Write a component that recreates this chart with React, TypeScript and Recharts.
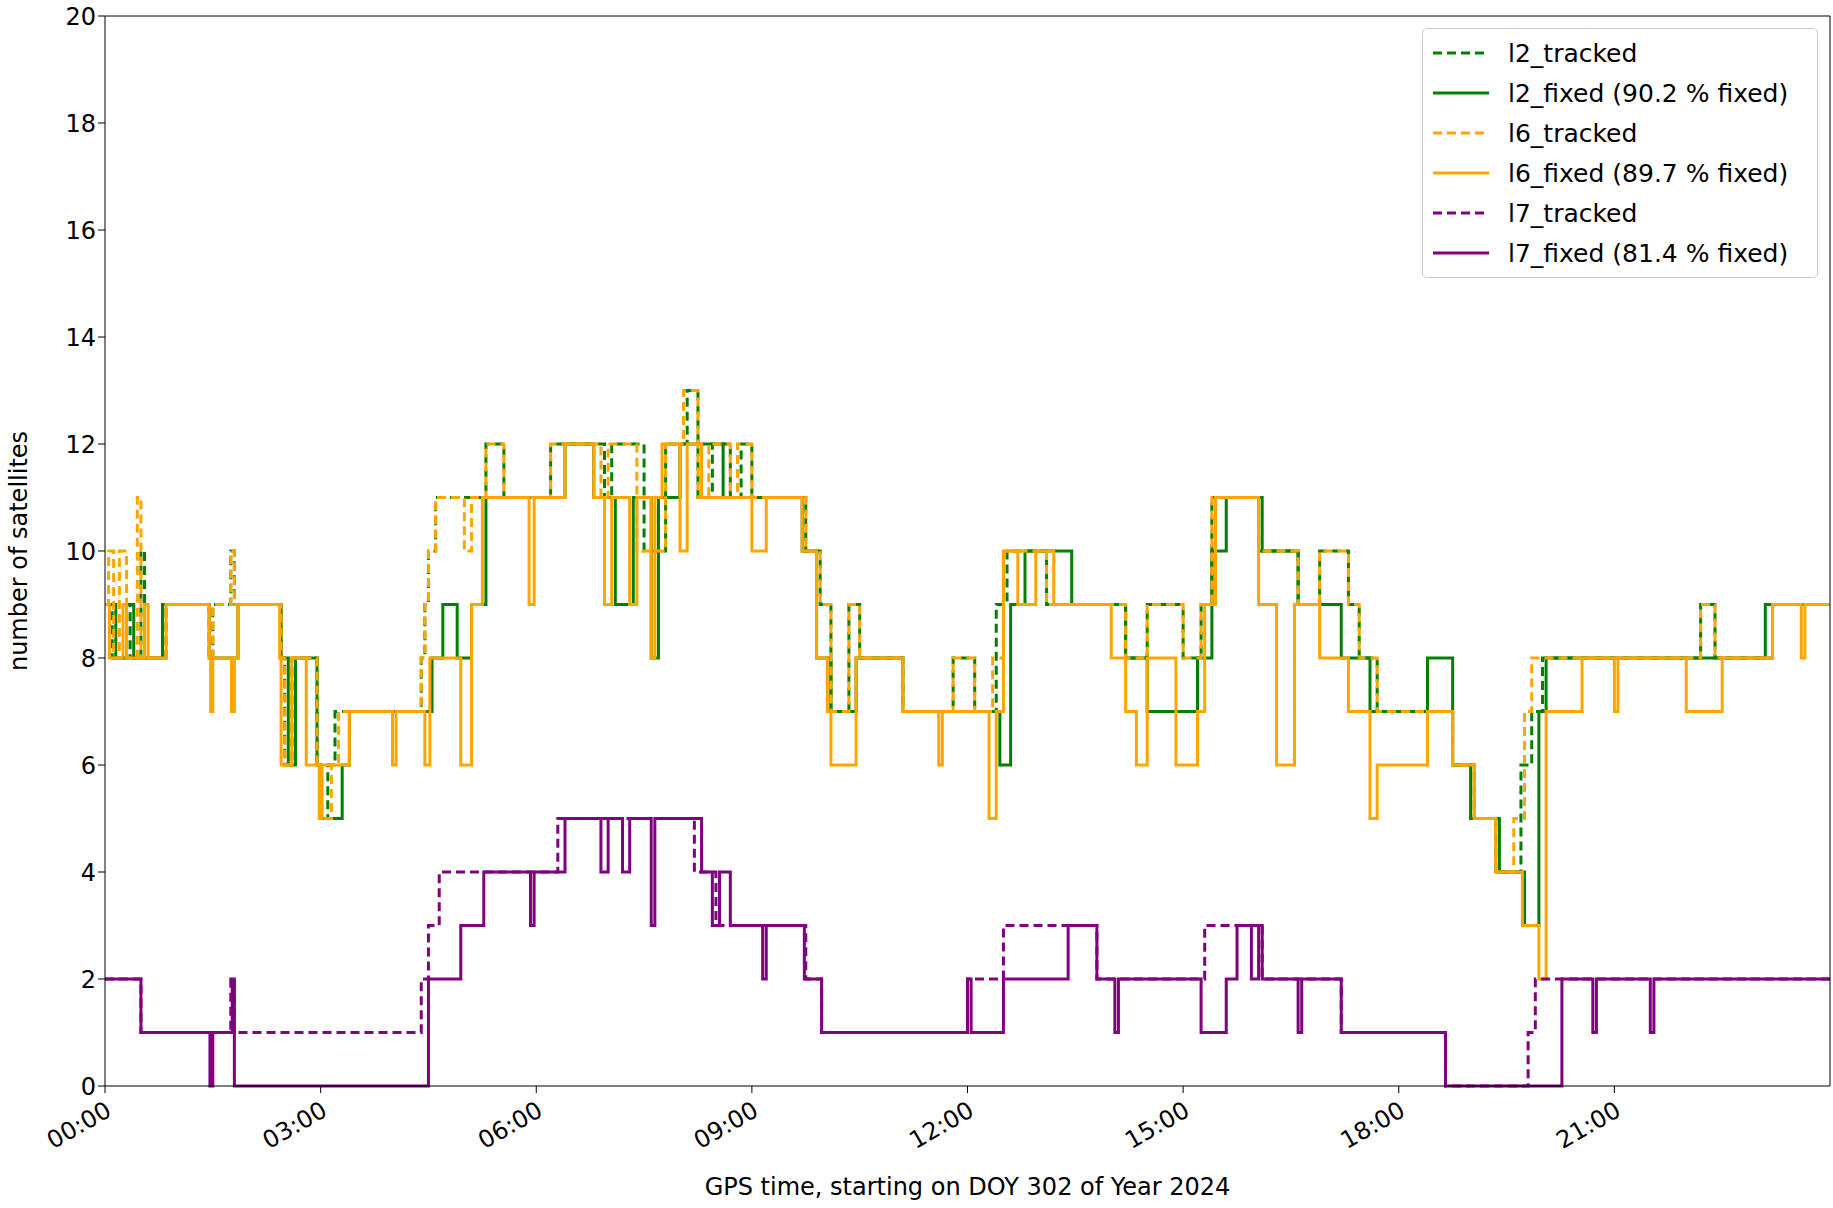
import React from "react";
import { LineChart, Line, XAxis, YAxis } from "recharts";

// change points [hour, satellites]
const l2Tracked: number[][] = [
  [0, 9], [0.1, 8], [0.3, 9], [0.35, 8], [0.5, 10], [0.55, 8], [0.85, 9], [1.45, 8], [1.5, 9], [1.75, 10], [1.8, 9], [2.45, 8], [2.5, 6], [2.6, 8], [2.95, 6], [3.0, 5], [3.1, 6], [3.2, 7],
  [4.4, 8], [4.45, 9], [4.5, 10], [4.6, 11], [5.3, 12], [5.55, 11], [6.2, 12], [6.95, 11], [7.05, 12], [7.5, 10], [7.8, 12], [8.1, 13], [8.25, 11], [8.45, 12], [8.7, 11], [8.85, 12], [9.0, 11],
  [9.75, 10], [9.95, 9], [10.1, 7], [10.35, 9], [10.5, 8], [11.1, 7], [11.8, 8], [12.1, 7], [12.4, 9], [12.55, 10], [12.9, 10], [13.1, 9], [13.7, 9], [14.2, 8], [14.5, 9], [15.0, 8], [15.25, 9],
  [15.4, 11], [16.05, 10], [16.6, 9], [16.9, 10], [17.3, 9], [17.45, 8], [17.7, 7], [18.4, 7], [18.75, 6], [19.05, 5], [19.35, 4], [19.7, 6], [19.85, 7], [20.0, 8], [21.7, 8], [22.2, 9],
  [22.4, 8], [23.0, 8], [23.2, 9], [24, 9],
];
const l2Fixed: number[][] = [
  [0, 9], [0.15, 8], [0.3, 9], [0.4, 8], [0.8, 9], [1.45, 8], [1.85, 9], [2.45, 8], [2.55, 6], [2.65, 8], [2.95, 6], [3.0, 5], [3.3, 6], [3.4, 7], [4.55, 8], [4.7, 9], [4.9, 8], [5.1, 9], [5.3, 11],
  [6.4, 12], [6.8, 11], [7.1, 9], [7.35, 11], [7.6, 8], [7.7, 11], [8.0, 12], [8.6, 11], [9.7, 10], [9.9, 8], [10.1, 7], [10.45, 8], [11.1, 7], [12.0, 7], [12.45, 6], [12.6, 9], [12.8, 10],
  [13.45, 9], [14.2, 8], [14.5, 7], [15.2, 8], [15.4, 10], [15.6, 11], [16.1, 10], [16.6, 9], [17.2, 8], [17.6, 7], [18.4, 8], [18.75, 6], [19.0, 5], [19.4, 4], [19.75, 3], [19.95, 7], [20.05, 8],
  [21.7, 8], [22.5, 8], [23.1, 9], [24, 9],
];
const l6Tracked: number[][] = [
  [0, 9], [0.05, 10], [0.12, 8], [0.2, 10], [0.3, 8], [0.45, 11], [0.5, 8], [0.85, 9], [1.45, 8], [1.5, 9], [1.75, 10], [1.8, 9], [2.45, 8], [2.5, 6], [2.6, 8], [2.95, 6], [3.0, 5], [3.15, 6],
  [3.25, 7], [4.4, 8], [4.45, 9], [4.5, 10], [4.6, 11], [5.0, 10], [5.1, 11], [5.3, 12], [5.55, 11], [6.2, 12], [6.9, 11], [7.0, 12], [7.4, 10], [7.8, 12], [8.05, 13], [8.25, 11], [8.4, 12],
  [8.7, 11], [8.8, 12], [9.0, 11], [9.75, 10], [9.95, 9], [10.1, 7], [10.35, 9], [10.5, 8], [11.1, 7], [11.8, 8], [12.1, 7], [12.35, 8], [12.5, 10], [12.9, 10], [13.1, 9], [13.7, 9],
  [14.2, 8], [14.5, 9], [15.0, 8], [15.25, 9], [15.4, 11], [16.05, 10], [16.6, 9], [16.9, 10], [17.3, 9], [17.45, 8], [17.7, 7], [18.4, 7], [18.75, 6], [19.05, 5], [19.35, 4], [19.6, 5],
  [19.75, 7], [19.85, 8], [21.7, 8], [22.2, 9], [22.4, 8], [23.0, 8], [23.2, 9], [24, 9],
];
const l6Fixed: number[][] = [
  [0, 9], [0.06, 8], [0.25, 9], [0.3, 8], [0.55, 9], [0.6, 8], [0.85, 9], [1.45, 8], [1.47, 7], [1.5, 8], [1.76, 7], [1.8, 8], [1.85, 9], [2.43, 8], [2.45, 6], [2.6, 8], [2.75, 8], [2.8, 6],
  [2.98, 5], [3.02, 6], [3.4, 7], [4.0, 6], [4.05, 7], [4.45, 6], [4.52, 8], [4.95, 6], [5.1, 9], [5.25, 11], [5.9, 9], [5.97, 11], [6.4, 12], [6.8, 11], [6.95, 9], [7.05, 11], [7.3, 9],
  [7.4, 11], [7.6, 8], [7.65, 11], [7.75, 12], [8.0, 10], [8.1, 12], [8.3, 11], [8.6, 11], [9.0, 10], [9.2, 11], [9.7, 10], [9.9, 8], [10.05, 7], [10.1, 6], [10.45, 8], [11.1, 7], [11.6, 6],
  [11.65, 7], [12.0, 7], [12.3, 5], [12.4, 7], [12.5, 10], [12.7, 9], [12.95, 10], [13.2, 9], [13.7, 9], [14.0, 8], [14.2, 7], [14.35, 6], [14.5, 8], [14.9, 6], [15.2, 7], [15.3, 9],
  [15.45, 11], [16.05, 9], [16.3, 6], [16.55, 9], [16.9, 8], [17.3, 7], [17.6, 5], [17.7, 6], [18.4, 7], [18.75, 6], [19.05, 5], [19.35, 4], [19.6, 4], [19.72, 3], [19.95, 2], [20.05, 7],
  [20.55, 8], [21.0, 7], [21.05, 8], [22.0, 7], [22.5, 8], [23.05, 8], [23.2, 9], [23.6, 8], [23.65, 9], [24, 9],
];
const l7Tracked: number[][] = [
  [0, 2], [0.5, 1], [1.75, 2], [1.8, 1], [4.4, 2], [4.5, 3], [4.65, 4], [6.3, 5], [8.2, 4], [8.5, 3], [9.75, 2], [9.97, 1], [12.0, 2], [12.5, 3], [13.8, 2], [15.3, 3], [16.1, 2],
  [17.2, 1], [18.65, 0], [19.8, 1], [19.9, 2], [24, 2],
];
const l7Fixed: number[][] = [
  [0, 2], [0.5, 1], [1.46, 0], [1.5, 1], [1.77, 2], [1.8, 0], [4.5, 2], [4.95, 3], [5.27, 4], [5.92, 3], [5.97, 4], [6.4, 5], [6.9, 4], [7.0, 5], [7.2, 4], [7.3, 5], [7.6, 3], [7.65, 5],
  [8.3, 4], [8.45, 3], [8.55, 4], [8.7, 3], [9.15, 2], [9.2, 3], [9.73, 2], [9.97, 1], [12.0, 2], [12.05, 1], [12.5, 2], [13.4, 3], [13.8, 2], [14.05, 1], [14.1, 2], [15.25, 1], [15.6, 2],
  [15.75, 3], [15.95, 2], [16.05, 3], [16.1, 2], [16.6, 1], [16.65, 2], [17.2, 1], [18.65, 0], [20.27, 2], [20.7, 1], [20.75, 2], [21.5, 1], [21.55, 2], [24, 2],
];
const xTicks = [0, 3, 6, 9, 12, 15, 18, 21];
const yTicks = [0, 2, 4, 6, 8, 10, 12, 14, 16, 18, 20];

const toRows = (pts: number[][]) => pts.map(([t, v]) => ({ t, v }));

const series = [
  { name: "l2_tracked", data: l2Tracked, color: "#008000", dash: "9 5" },
  { name: "l2_fixed (90.2 % fixed)", data: l2Fixed, color: "#008000", dash: undefined },
  { name: "l6_tracked", data: l6Tracked, color: "#ffa500", dash: "9 5" },
  { name: "l6_fixed (89.7 % fixed)", data: l6Fixed, color: "#ffa500", dash: undefined },
  { name: "l7_tracked", data: l7Tracked, color: "#800080", dash: "9 5" },
  { name: "l7_fixed (81.4 % fixed)", data: l7Fixed, color: "#800080", dash: undefined },
];

const font = "DejaVu Sans, sans-serif";

function LegendBox() {
  return (
    <div style={{ position: "absolute", top: 28, left: 1422, width: 374, border: "1.5px solid #ccc", borderRadius: 5, background: "white", padding: "4px 10px", fontFamily: font, fontSize: 25 }}>
      {series.map((s) => (
        <div key={s.name} style={{ display: "flex", alignItems: "center", height: 40 }}>
          <svg width={56} height={10} style={{ marginRight: 19 }}>
            <line x1={0} y1={5} x2={56} y2={5} stroke={s.color} strokeWidth={3} strokeDasharray={s.dash ? "9 5" : undefined} />
          </svg>
          <span>{s.name}</span>
        </div>
      ))}
    </div>
  );
}

function XTick(props: any) {
  const { x, y, payload } = props;
  const h = String(payload.value).padStart(2, "0");
  return (
    <text x={x} y={y + 6} textAnchor="end" fontSize={24} fontFamily={font} fill="#000" transform={`rotate(-30 ${x} ${y + 6})`} dy={16}>
      {h}:00
    </text>
  );
}

export default function App() {
  return (
    <div style={{ position: "absolute", left: 0, top: 0 }}>
      <LineChart width={1833} height={1208} margin={{ top: 15, right: 2, bottom: 92, left: 0 }}>
        <XAxis dataKey="t" type="number" domain={[0, 24]} ticks={xTicks} allowDataOverflow tick={<XTick />} stroke="#000" tickSize={7}
          label={{ value: "GPS time, starting on DOY 302 of Year 2024", position: "bottom", offset: 62, fontSize: 24, fontFamily: font, fill: "#000" }} />
        <XAxis xAxisId="top" orientation="top" type="number" domain={[0, 24]} tick={false} tickLine={false} stroke="#000" height={1} />
        <YAxis domain={[0, 20]} ticks={yTicks} width={105} stroke="#000" tickSize={7} tick={{ fontSize: 24, fontFamily: font, fill: "#000" }}
          label={{ value: "number of satellites", angle: -90, position: "insideLeft", offset: 18, fontSize: 24, fontFamily: font, fill: "#000", textAnchor: "middle" }} />
        <YAxis yAxisId="r" orientation="right" domain={[0, 20]} tick={false} tickLine={false} stroke="#000" width={1} />
        {series.map((s) => (
          <Line key={s.name} data={toRows(s.data)} dataKey="v" name={s.name} type="stepAfter" stroke={s.color} strokeWidth={3}
            strokeDasharray={s.dash} dot={false} isAnimationActive={false} />
        ))}
      </LineChart>
      <LegendBox />
    </div>
  );
}
